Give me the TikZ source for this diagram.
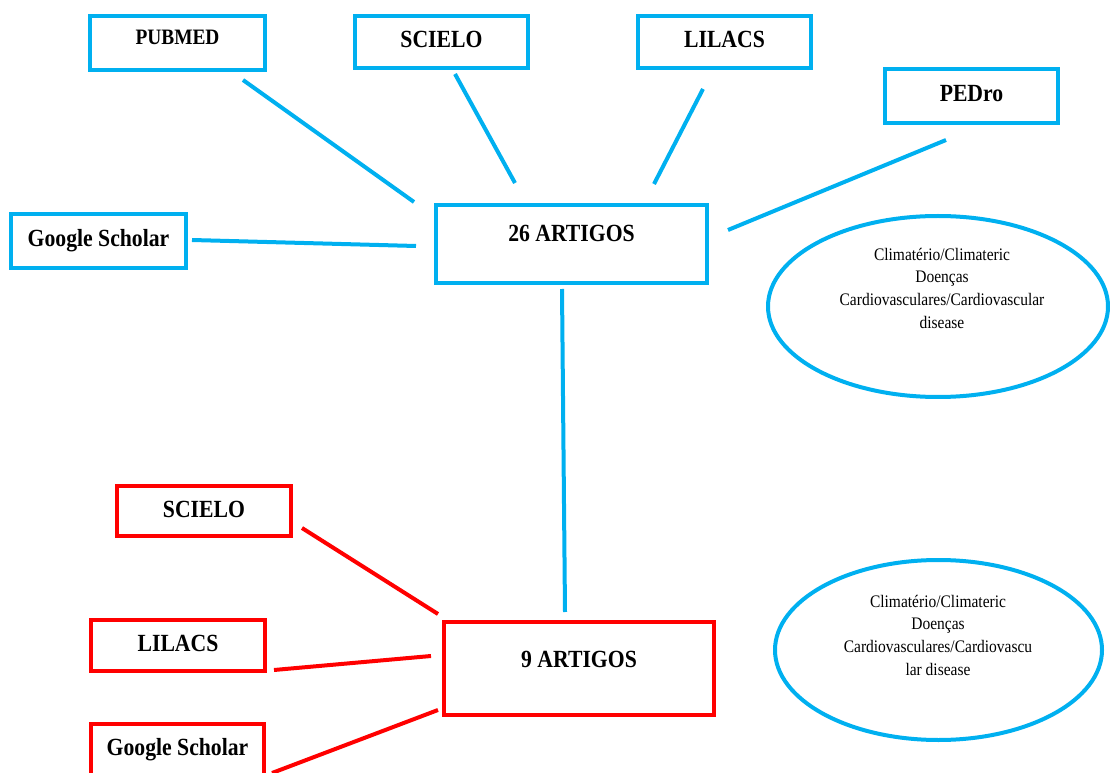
\documentclass[tikz,border=0pt]{standalone}
\usepackage{fontspec}
\setmainfont{Liberation Serif}
\newfontfamily\condfont[FakeStretch=0.88]{Liberation Serif}
\usetikzlibrary{calc,shapes.geometric}
\definecolor{cblue}{RGB}{0,176,240}
\definecolor{cred}{RGB}{255,0,0}
\tikzset{
  bx/.style={draw=cblue, line width=3pt, inner sep=0pt, font=\condfont\bfseries\fontsize{18.5}{21}\selectfont},
  rbx/.style={bx, draw=cred},
  bl/.style={draw=cblue, line width=3pt},
  rl/.style={draw=cred, line width=3pt},
  ell/.style={draw=cblue, line width=3pt, ellipse, inner sep=0pt},
  etxt/.style={align=center, font=\condfont\fontsize{13.2}{17}\selectfont, inner sep=0pt},
}
\begin{document}
\begin{tikzpicture}[x=0.75pt,y=-0.75pt]
\useasboundingbox (0,0) rectangle (1110,773);
% top sources
\node[bx, minimum width=131.25pt, text height=21.75pt, text depth=18.75pt, font=\condfont\bfseries\fontsize{16.5}{19}\selectfont] (pubmed) at (177.5,43) {PUBMED};
\node[bx, minimum width=129.75pt, text height=24pt, text depth=15pt] (scielo) at (441.5,42) {SCIELO};
\node[bx, minimum width=129.75pt, text height=24pt, text depth=15pt] (lilacs) at (724.5,42) {LILACS};
\node[bx, minimum width=129.75pt, text height=24.75pt, text depth=15.75pt] (pedro) at (971.5,96) {PEDro};
\node[bx, minimum width=131.25pt, text height=24.75pt, text depth=15.75pt] (google) at (98.5,241) {Google Scholar};
\node[bx, minimum width=203.25pt, text height=27.75pt, text depth=30.75pt] (a26) at (571.5,244) {26 ARTIGOS};
% bottom sources
\node[rbx, minimum width=130.5pt, text height=23.25pt, text depth=14.25pt] (rs) at (204,511) {SCIELO};
\node[rbx, minimum width=130.5pt, text height=23.25pt, text depth=15pt] (rlil) at (178,645.5) {LILACS};
\node[rbx, minimum width=129.75pt, text height=23.25pt, text depth=33.75pt] (rg) at (177.5,762) {Google Scholar};
\node[rbx, minimum width=202.5pt, text height=33.75pt, text depth=36pt] (a9) at (579,668.5) {9 ARTIGOS};
% ellipses
\node[ell, minimum width=255pt, minimum height=135.75pt] (e1) at (938,306.5) {};
\node[etxt] (t1) at (942,288) {Climatério/Climateric\\Doenças\\Cardiovasculares/Cardiovascular\\disease};
\node[ell, minimum width=245.25pt, minimum height=135pt] (e2) at (938.5,650) {};
\node[etxt] (t2) at (938,635) {Climatério/Climateric\\Doenças\\Cardiovasculares/Cardiovascu\\lar disease};
% blue connectors
\draw[bl] ($(pubmed.south)+(65.5,8)$) -- ($(a26.north west)+(-20,-1)$);
\draw[bl] ($(scielo.south)+(13.5,4)$) -- ($(a26.north west)+(81,-20)$);
\draw[bl] ($(lilacs.south)+(-21.5,19)$) -- ($(a26.north east)+(-55,-19)$);
\draw[bl] ($(pedro.south)+(-25.5,15)$) -- ($(a26.east)+(19,-14)$);
\draw[bl] ($(google.east)+(4,-1)$) -- ($(a26.west)+(-18,2)$);
\draw[bl] ($(a26.south)+(-9.5,4)$) -- ($(a9.north)+(-14,-8)$);
% red connectors
\draw[rl] ($(rs.east)+(9,17)$) -- ($(a9.north west)+(-4,-6)$);
\draw[rl] ($(rlil.east)+(7,24.5)$) -- ($(a9.west)+(-11,-12.5)$);
\draw[rl] ($(rg.east)+(6,11)$) -- ($(a9.south west)+(-4,-7)$);
\end{tikzpicture}
\end{document}
